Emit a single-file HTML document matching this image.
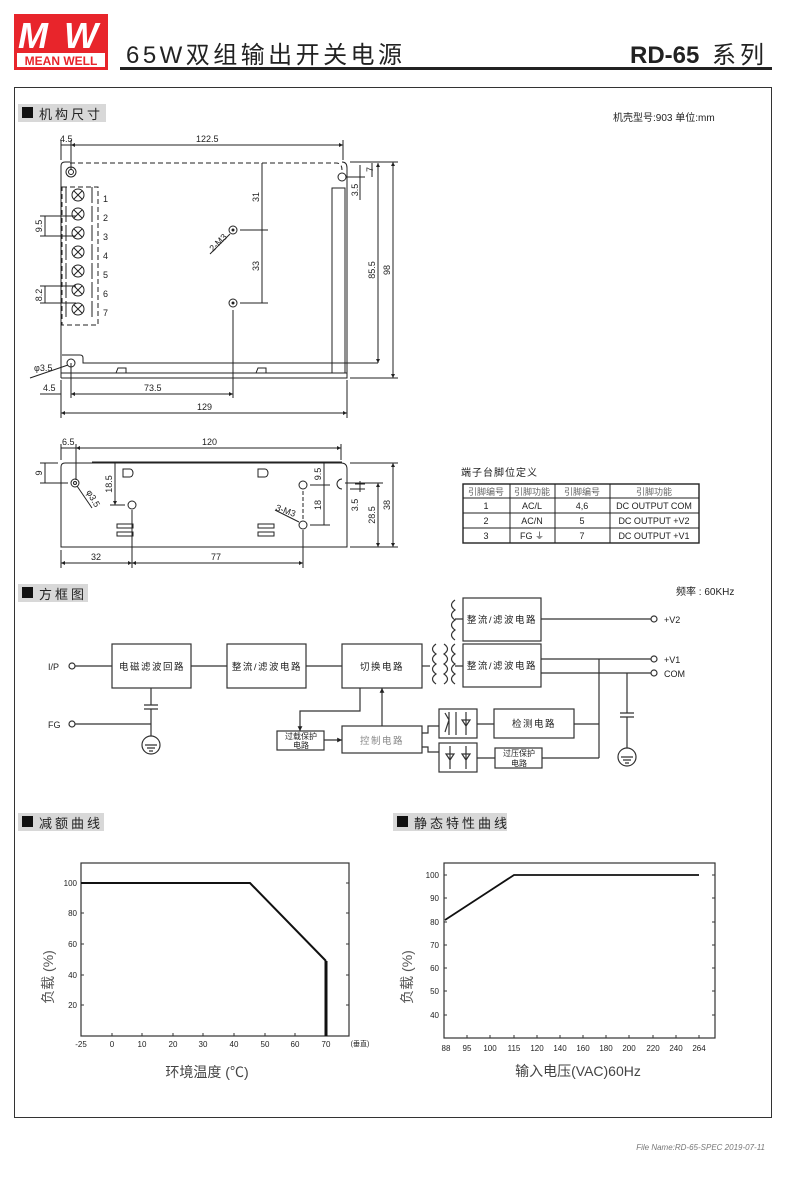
<!DOCTYPE html>
<html><head><meta charset="utf-8"><style>
html,body{margin:0;padding:0;background:#fff}
svg{display:block}
text{font-family:"Liberation Sans","Noto Sans CJK SC",sans-serif;fill:#222}
.c{font-family:"Liberation Sans","Noto Sans CJK SC",sans-serif}
</style></head><body>
<svg width="790" height="1178" viewBox="0 0 790 1178" xmlns="http://www.w3.org/2000/svg">
<defs>
<marker id="ar" viewBox="0 0 6 6" refX="6" refY="3" markerWidth="6" markerHeight="6" orient="auto-start-reverse"><path d="M0,0 L6,3 L0,6 z" fill="#222"/></marker>
<marker id="sm" viewBox="0 0 6 6" refX="6" refY="3" markerWidth="4" markerHeight="4" orient="auto-start-reverse"><path d="M0,0 L6,3 L0,6 z" fill="#222"/></marker>
</defs>
<!-- header -->
<rect x="14" y="14" width="94" height="56" fill="#e8252b"/>
<text x="58" y="48" font-size="36" font-style="italic" font-weight="bold" fill="#fff" text-anchor="middle" style="fill:#fff" textLength="80">MW</text>
<rect x="17" y="53" width="88" height="14" fill="#fff"/>
<text x="61" y="65" font-size="12" font-weight="bold" text-anchor="middle" style="fill:#e8252b">MEAN WELL</text>
<text x="126" y="63" font-size="24" textLength="276">65W双组输出开关电源</text>
<text x="630" y="63" font-size="24" font-weight="bold">RD-65</text>
<text x="712" y="63" font-size="24" letter-spacing="4">系列</text>
<rect x="120" y="67" width="652" height="3" fill="#222"/>
<!-- frame -->
<rect x="14.5" y="87.5" width="757" height="1030" fill="none" stroke="#333" stroke-width="1"/>
<!-- section labels -->
<g font-size="13">
<rect x="18" y="104" width="88" height="18" fill="#d8d8d8"/><rect x="22" y="107" width="11" height="11" fill="#111"/><text x="39" y="119" letter-spacing="3">机构尺寸</text>
<rect x="18" y="584" width="70" height="18" fill="#d8d8d8"/><rect x="22" y="587" width="11" height="11" fill="#111"/><text x="39" y="599" letter-spacing="3">方框图</text>
<rect x="18" y="813" width="86" height="18" fill="#d8d8d8"/><rect x="22" y="816" width="11" height="11" fill="#111"/><text x="39" y="828" letter-spacing="3">减额曲线</text>
<rect x="393" y="813" width="114" height="18" fill="#d8d8d8"/><rect x="397" y="816" width="11" height="11" fill="#111"/><text x="414" y="828" letter-spacing="3">静态特性曲线</text>
</g>
<text x="613" y="121" font-size="10">机壳型号:903 单位:mm</text>
<text x="676" y="595" font-size="10">频率 : 60KHz</text>

<!-- mechanical top view -->
<g stroke="#222" fill="none" stroke-width="1">
<path d="M61,378 L61,166 Q61,162 65,162 L70,162"/>
<path d="M70,163 L336,163 Q342,163 342,170" stroke-dasharray="5,3"/>
<path d="M342,162 Q347,162 347,168 L347,378 L61,378"/>
<path d="M61,373 L347,373"/>
<circle cx="342" cy="177" r="4"/>
<rect x="332" y="188" width="13" height="185"/>
<circle cx="71" cy="172" r="5"/><circle cx="71" cy="172" r="2.5"/>
<rect x="62" y="187" width="36" height="138" stroke-dasharray="5,3"/>
<circle cx="71" cy="363" r="4"/>
<path d="M62,355 L80,355 Q83,355 83,358 L83,363 L378,363"/>
<path d="M116,373 L118,368 L126,368 L126,373 M256,373 L258,368 L266,368 L266,373"/>
<!-- dims -->
<path d="M61,140 L61,160 M71,140 L71,170 M343,140 L343,160"/>
<path d="M61,145 L71,145"/>
<path d="M71,145 L343,145" marker-start="url(#sm)" marker-end="url(#sm)"/>
<path d="M262,163 L262,303" /><path d="M255,230 L268,230 M240,303 L268,303 M240,230 L255,230"/>
<path d="M233,310 L233,398 M61,380 L61,418 M347,380 L347,418 M71,363 L71,398"/>
<path d="M40,394 L61,394"/><path d="M71,394 L233,394" marker-start="url(#sm)" marker-end="url(#sm)"/>
<path d="M61,413 L347,413" marker-start="url(#sm)" marker-end="url(#sm)"/>
<path d="M378,163 L378,363" marker-start="url(#sm)" marker-end="url(#sm)"/>
<path d="M393,162 L393,378" marker-start="url(#sm)" marker-end="url(#sm)"/>
<path d="M350,162 L398,162 M350,378 L398,378 M346,177 L365,177 M360,165 L360,200 M372,163 L372,177"/>
<path d="M40,216 L76,216 M40,236 L76,236 M45,216 L45,236 M40,286 L76,286 M40,303 L76,303 M45,286 L45,303"/>
<path d="M210,254 L230,234 M30,378 L68,365"/>
</g>
<g stroke="#222" fill="none" stroke-width="1">
<g id="t"><circle cx="78" cy="195" r="6"/><path d="M74,191 L82,199 M82,191 L74,199 M66,187 L66,203 M92,187 L92,203" /></g>
<use href="#t" y="19"/><use href="#t" y="38"/><use href="#t" y="57"/><use href="#t" y="76"/><use href="#t" y="95"/><use href="#t" y="114"/>
<circle cx="233" cy="230" r="4"/><circle cx="233" cy="303" r="4"/>
</g>
<circle cx="233" cy="230" r="1.5" fill="#222"/><circle cx="233" cy="303" r="1.5" fill="#222"/>
<g font-size="9">
<text x="103" y="202">1</text><text x="103" y="221">2</text><text x="103" y="240">3</text><text x="103" y="259">4</text><text x="103" y="278">5</text><text x="103" y="297">6</text><text x="103" y="316">7</text>
<text x="60" y="142">4.5</text><text x="196" y="142">122.5</text>
<text x="43" y="391">4.5</text><text x="144" y="391">73.5</text><text x="197" y="410">129</text>
<text x="34" y="371">φ3.5</text>
<text transform="translate(259,197) rotate(-90)" text-anchor="middle">31</text>
<text transform="translate(259,266) rotate(-90)" text-anchor="middle">33</text>
<text transform="translate(375,270) rotate(-90)" text-anchor="middle">85.5</text>
<text transform="translate(390,270) rotate(-90)" text-anchor="middle">98</text>
<text transform="translate(373,172) rotate(-90)">7</text>
<text transform="translate(358,190) rotate(-90)" text-anchor="middle">3.5</text>
<text transform="translate(42,226) rotate(-90)" text-anchor="middle">9.5</text>
<text transform="translate(42,295) rotate(-90)" text-anchor="middle">8.2</text>
<text transform="translate(213,252) rotate(-45)">2-M3</text>
</g>

<!-- side view -->
<g stroke="#222" fill="none" stroke-width="1">
<path d="M65,463 L341,463 Q347,463 347,469 L347,547 L61,547 L61,467 Q61,463 65,463"/>
<path d="M92,462 L342,462"/>
<circle cx="75" cy="483" r="4"/><circle cx="75" cy="483" r="1.5"/>
<circle cx="132" cy="505" r="4"/><circle cx="303" cy="485" r="4"/><circle cx="303" cy="525" r="4"/>
<path d="M342,479 A5,5 0 0 0 342,489"/>
<path d="M123,469 L130,469 A3,4 0 0 1 130,477 L123,477 Z M258,469 L265,469 A3,4 0 0 1 265,477 L258,477 Z"/>
<rect x="117" y="524" width="16" height="4"/><rect x="117" y="532" width="16" height="4"/>
<rect x="258" y="524" width="16" height="4"/><rect x="258" y="532" width="16" height="4"/>
<path d="M303,491 L303,519" stroke-dasharray="4,2"/>
<path d="M61,444 L61,460 M76,444 L76,480 M341,444 L341,460"/>
<path d="M61,448 L76,448"/><path d="M76,448 L341,448" marker-start="url(#sm)" marker-end="url(#sm)"/>
<path d="M40,463 L58,463 M40,483 L68,483 M45,463 L45,483"/>
<path d="M115,463 L115,505" marker-end="url(#sm)"/><path d="M110,505 L125,505"/>
<path d="M310,485 L330,485 M310,525 L330,525 M324,463 L324,525 M360,481 L360,492 M355,484 L365,484 M350,489 L365,489"/>
<path d="M350,463 L398,463 M350,547 L398,547 M345,483 L383,483"/>
<path d="M378,483 L378,547" marker-start="url(#sm)" marker-end="url(#sm)"/>
<path d="M393,463 L393,547" marker-start="url(#sm)" marker-end="url(#sm)"/>
<path d="M61,550 L61,568 M132,510 L132,568 M303,530 L303,568"/>
<path d="M61,563 L132,563" marker-start="url(#sm)" marker-end="url(#sm)"/>
<path d="M132,563 L303,563" marker-start="url(#sm)" marker-end="url(#sm)"/>
<path d="M77,486 L92,508 M275,510 L299,522"/>
</g>
<g font-size="9">
<text x="62" y="445">6.5</text><text x="202" y="445">120</text>
<text x="91" y="560">32</text><text x="211" y="560">77</text>
<text transform="translate(42,473) rotate(-90)" text-anchor="middle">9</text>
<text transform="translate(112,484) rotate(-90)" text-anchor="middle">18.5</text>
<text transform="translate(321,474) rotate(-90)" text-anchor="middle">9.5</text>
<text transform="translate(321,505) rotate(-90)" text-anchor="middle">18</text>
<text transform="translate(358,505) rotate(-90)" text-anchor="middle">3.5</text>
<text transform="translate(375,515) rotate(-90)" text-anchor="middle">28.5</text>
<text transform="translate(390,505) rotate(-90)" text-anchor="middle">38</text>
<text transform="translate(86,492) rotate(60)">φ3.5</text>
<text transform="translate(275,510) rotate(20)">3-M3</text>
</g>

<!-- table -->
<text x="461" y="476" font-size="10" letter-spacing="1">端子台脚位定义</text>
<g stroke="#222" fill="none" stroke-width="1">
<rect x="463" y="484" width="236" height="59" stroke-width="1.4"/>
<path d="M463,498 L699,498 M463,513 L699,513 M463,528 L699,528 M510,484 L510,543 M555,484 L555,543 M610,484 L610,543"/>
</g>
<g font-size="9" text-anchor="middle">
<text x="486" y="495" fill="#666" style="fill:#666">引脚编号</text><text x="532" y="495" style="fill:#666">引脚功能</text><text x="582" y="495" style="fill:#666">引脚编号</text><text x="654" y="495" style="fill:#666">引脚功能</text>
<text x="486" y="509">1</text><text x="532" y="509">AC/L</text><text x="582" y="509">4,6</text><text x="654" y="509">DC OUTPUT COM</text>
<text x="486" y="524">2</text><text x="532" y="524">AC/N</text><text x="582" y="524">5</text><text x="654" y="524">DC OUTPUT +V2</text>
<text x="486" y="539">3</text><text x="532" y="539">FG ⏚</text><text x="582" y="539">7</text><text x="654" y="539">DC OUTPUT +V1</text>
</g>

<!-- block diagram -->
<g stroke="#333" fill="none" stroke-width="1.2">
<rect x="112" y="644" width="79" height="44"/>
<rect x="227" y="644" width="79" height="44"/>
<rect x="342" y="644" width="80" height="44"/>
<rect x="463" y="598" width="78" height="43"/>
<rect x="463" y="644" width="78" height="43"/>
<rect x="277" y="731" width="47" height="19"/>
<rect x="342" y="726" width="80" height="27"/>
<rect x="439" y="709" width="38" height="29"/>
<rect x="494" y="709" width="80" height="29"/>
<rect x="439" y="743" width="38" height="29"/>
<rect x="495" y="748" width="47" height="20"/>
<circle cx="72" cy="666" r="3"/><circle cx="72" cy="724" r="3"/>
<path d="M75,666 L112,666 M191,666 L227,666 M306,666 L342,666"/>
<path d="M75,724 L151,724 M151,688 L151,705 M144,705 L158,705 M144,709 L158,709 M151,709 L151,736"/>
<circle cx="151" cy="745" r="9"/><path d="M145,745 L157,745 M147,748 L155,748 M149,751 L153,751"/>
<path d="M360,688 L360,711 L300,711 L300,731" marker-end="url(#sm)"/>
<path d="M382,726 L382,688" marker-end="url(#sm)"/>
<path d="M324,740 L342,740" marker-end="url(#sm)"/>
<path d="M422,666 L430,666"/>
<path d="M436,646 q-7,5 0,10 q-7,5 0,10 q-7,5 0,10 q-7,5 0,10" transform="translate(0,-2)"/>
<path d="M444,646 q7,5 0,10 q7,5 0,10 q7,5 0,10 q7,5 0,10" transform="translate(0,-2)"/>
<path d="M455,600 q-7,5 0,10 q-7,5 0,10 q-7,5 0,10 q-7,5 0,10"/>
<path d="M455,646 q-7,5 0,10 q-7,5 0,10 q-7,5 0,10 q-7,5 0,10" transform="translate(0,-2)"/>
<path d="M455,619 L463,619 M455,666 L463,666"/>
<path d="M541,619 L651,619 M541,659 L651,659 M541,673 L651,673"/>
<circle cx="654" cy="619" r="3"/><circle cx="654" cy="659" r="3"/><circle cx="654" cy="673" r="3"/>
<path d="M599,659 L599,758 M599,724 L574,724 M599,758 L542,758 M494,724 L477,724 M495,758 L477,758"/>
<path d="M627,673 L627,713 M620,713 L634,713 M620,717 L634,717 M627,717 L627,748"/>
<circle cx="627" cy="757" r="9"/><path d="M621,757 L633,757 M623,760 L631,760 M625,763 L629,763"/>
<path d="M422,733 L428,733 L428,726 L439,726 M422,747 L428,747 L428,752 L439,752"/>
<path d="M449,712 L449,735 M456,712 L456,735 M466,712 L466,735 M462,720 L470,720 M466,726 L462,720 L470,720 Z M445,713 L449,720 L445,732"/>
<path d="M466,746 L466,769 M450,746 L450,769 M462,754 L470,754 M446,754 L454,754 M466,760 L462,754 L470,754 Z M450,760 L446,754 L454,754 Z"/>
</g>
<g font-size="9">
<text x="48" y="670">I/P</text><text x="48" y="728">FG</text>
<text x="664" y="623">+V2</text><text x="664" y="663">+V1</text><text x="664" y="677">COM</text>
</g>
<g font-size="9.5" text-anchor="middle" letter-spacing="1.5">
<text x="152" y="670">电磁滤波回路</text>
<text x="267" y="670">整流/滤波电路</text>
<text x="382" y="670">切换电路</text>
<text x="502" y="623">整流/滤波电路</text>
<text x="502" y="669">整流/滤波电路</text>
<text x="382" y="744" style="fill:#888">控制电路</text>
<text x="534" y="727">检测电路</text>
</g>
<g font-size="8" text-anchor="middle">
<text x="301" y="739">过载保护</text><text x="301" y="748">电路</text>
<text x="519" y="756">过压保护</text><text x="519" y="766">电路</text>
</g>

<!-- derating chart -->
<g stroke="#333" fill="none" stroke-width="1">
<rect x="81" y="863" width="268" height="173" stroke-width="1.2"/>
<path d="M81,883 L84,883 M81,913 L84,913 M81,944 L84,944 M81,975 L84,975 M81,1005 L84,1005 M346,883 L349,883 M346,913 L349,913 M346,944 L349,944 M346,975 L349,975 M346,1005 L349,1005"/>
<path d="M112,1033 L112,1036 M142,1033 L142,1036 M173,1033 L173,1036 M203,1033 L203,1036 M234,1033 L234,1036 M265,1033 L265,1036 M295,1033 L295,1036 M326,1033 L326,1036"/>
</g>
<path d="M81,883 L250,883 L326,961" stroke="#111" stroke-width="2" fill="none"/>
<path d="M326,961 L326,1036" stroke="#111" stroke-width="3" fill="none"/>
<g font-size="8" text-anchor="end"><text x="77" y="886">100</text><text x="77" y="916">80</text><text x="77" y="947">60</text><text x="77" y="978">40</text><text x="77" y="1008">20</text></g>
<g font-size="8" text-anchor="middle"><text x="81" y="1047">-25</text><text x="112" y="1047">0</text><text x="142" y="1047">10</text><text x="173" y="1047">20</text><text x="203" y="1047">30</text><text x="234" y="1047">40</text><text x="265" y="1047">50</text><text x="295" y="1047">60</text><text x="326" y="1047">70</text><text x="360" y="1046" font-size="7">(垂直)</text></g>
<text transform="translate(53,977) rotate(-90)" font-size="14" text-anchor="middle" style="fill:#555">负载 (%)</text>
<text x="207" y="1077" font-size="14" text-anchor="middle" style="fill:#444">环境温度 (℃)</text>

<!-- static chart -->
<g stroke="#333" fill="none" stroke-width="1">
<rect x="444" y="863" width="271" height="175" stroke-width="1.2"/>
<path d="M444,875 L447,875 M444,898 L447,898 M444,922 L447,922 M444,945 L447,945 M444,968 L447,968 M444,991 L447,991 M444,1015 L447,1015 M712,875 L715,875 M712,898 L715,898 M712,922 L715,922 M712,945 L715,945 M712,968 L715,968 M712,991 L715,991 M712,1015 L715,1015"/>
<path d="M467,1035 L467,1038 M490,1035 L490,1038 M514,1035 L514,1038 M537,1035 L537,1038 M560,1035 L560,1038 M583,1035 L583,1038 M606,1035 L606,1038 M629,1035 L629,1038 M653,1035 L653,1038 M676,1035 L676,1038 M699,1035 L699,1038"/>
</g>
<path d="M445,920 L514,875 L699,875" stroke="#111" stroke-width="1.8" fill="none"/>
<g font-size="8" text-anchor="end"><text x="439" y="878">100</text><text x="439" y="901">90</text><text x="439" y="925">80</text><text x="439" y="948">70</text><text x="439" y="971">60</text><text x="439" y="994">50</text><text x="439" y="1018">40</text></g>
<g font-size="8" text-anchor="middle"><text x="446" y="1051">88</text><text x="467" y="1051">95</text><text x="490" y="1051">100</text><text x="514" y="1051">115</text><text x="537" y="1051">120</text><text x="560" y="1051">140</text><text x="583" y="1051">160</text><text x="606" y="1051">180</text><text x="629" y="1051">200</text><text x="653" y="1051">220</text><text x="676" y="1051">240</text><text x="699" y="1051">264</text></g>
<text transform="translate(412,977) rotate(-90)" font-size="14" text-anchor="middle" style="fill:#555">负载 (%)</text>
<text x="578" y="1076" font-size="14" text-anchor="middle" style="fill:#444">输入电压(VAC)60Hz</text>

<text x="765" y="1150" font-size="8" font-style="italic" text-anchor="end" style="fill:#777">File Name:RD-65-SPEC   2019-07-11</text>
</svg>
</body></html>
